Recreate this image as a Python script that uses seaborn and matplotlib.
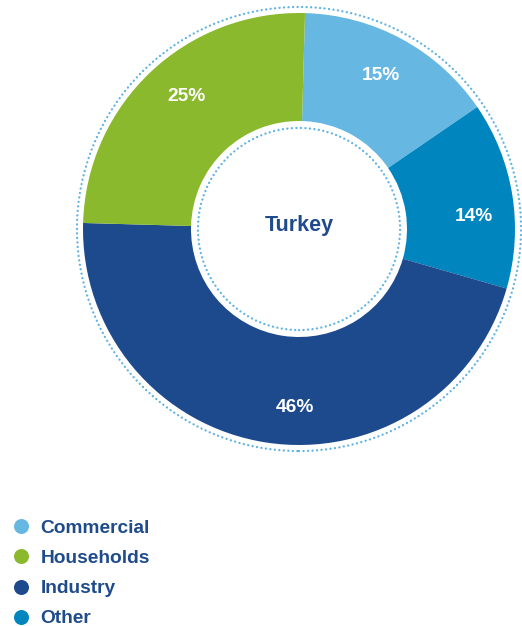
import matplotlib
matplotlib.use("Agg")
import numpy as np
import matplotlib.pyplot as plt
from matplotlib.lines import Line2D
from matplotlib.patches import Circle
import seaborn as sns

categories = ["Commercial", "Households", "Industry", "Other"]
shares = [15, 25, 46, 14]
# drawing order around the ring (clockwise from the top)
ring_order = ["Commercial", "Other", "Industry", "Households"]
center_label = "Turkey"

palette = {
    "Commercial": "#66B8E3",
    "Households": "#8AB92D",
    "Industry": "#1C4A8C",
    "Other": "#0085BF",
}
# angular shift (degrees) of each percentage label from its wedge's middle
label_shift = {"Commercial": 0.8, "Other": -4.2, "Industry": 7.4, "Households": -3.7}
label_radius = 0.815
text_blue = "#1F4B8C"

sns.set_theme(style="white")
plt.rcParams["font.family"] = ["Liberation Sans", "DejaVu Sans"]

fig = plt.figure(figsize=(5.22, 6.26), dpi=100)
W, H = 522, 626
cx, cy, R = 299, 229, 216
half = 232
ax = fig.add_axes([(cx - half) / W, (H - cy - half) / H, 2 * half / W, 2 * half / H])

value_of = dict(zip(categories, shares))
vals = [value_of[c] for c in ring_order]
cols = [palette[c] for c in ring_order]

wedges, _, autotexts = ax.pie(
    vals,
    colors=cols,
    startangle=88.4,
    counterclock=False,
    radius=1.0,
    wedgeprops=dict(width=0.5, edgecolor="none", linewidth=0),
    autopct=lambda p: f"{p:.0f}%",
    pctdistance=label_radius,
    textprops=dict(color="white", fontsize=13.8, fontweight="bold"),
)

# place each percentage inside its wedge, digits centred on the anchor point
half_cap = 7.0 / R
for name, w, t in zip(ring_order, wedges, autotexts):
    ang = np.deg2rad((w.theta1 + w.theta2) / 2 + label_shift[name])
    t.set_position((label_radius * np.cos(ang), label_radius * np.sin(ang) - half_cap))
    t.set_verticalalignment("baseline")

lim = half / R
ax.set_xlim(-lim, lim)
ax.set_ylim(-lim, lim)
ax.set_aspect("equal")
ax.axis("off")

dot_style = (0, (0.01, 1.9))
for r in (1.028, 0.468):
    ax.add_patch(Circle((0, 0), r, fill=False, edgecolor="#5FB3E3",
                        linewidth=1.7, linestyle=dot_style, capstyle="round"))

ax.text(0, 0.018, center_label, ha="center", va="center", fontsize=15.5,
        fontweight="bold", color=text_blue)

handles = [Line2D([], [], marker="o", linestyle="", markersize=10.8,
                  markerfacecolor=palette[c], markeredgecolor="none") for c in categories]
fig.legend(handles, categories, loc="upper left",
           bbox_to_anchor=(11 / W, (H - 519.5) / H), frameon=False,
           prop=dict(size=13.8, weight="bold"), labelcolor=text_blue,
           handlelength=1.0, handletextpad=0.55, labelspacing=0.665,
           borderpad=0.0, borderaxespad=0.0)

fig.savefig("out.png", dpi=100)
